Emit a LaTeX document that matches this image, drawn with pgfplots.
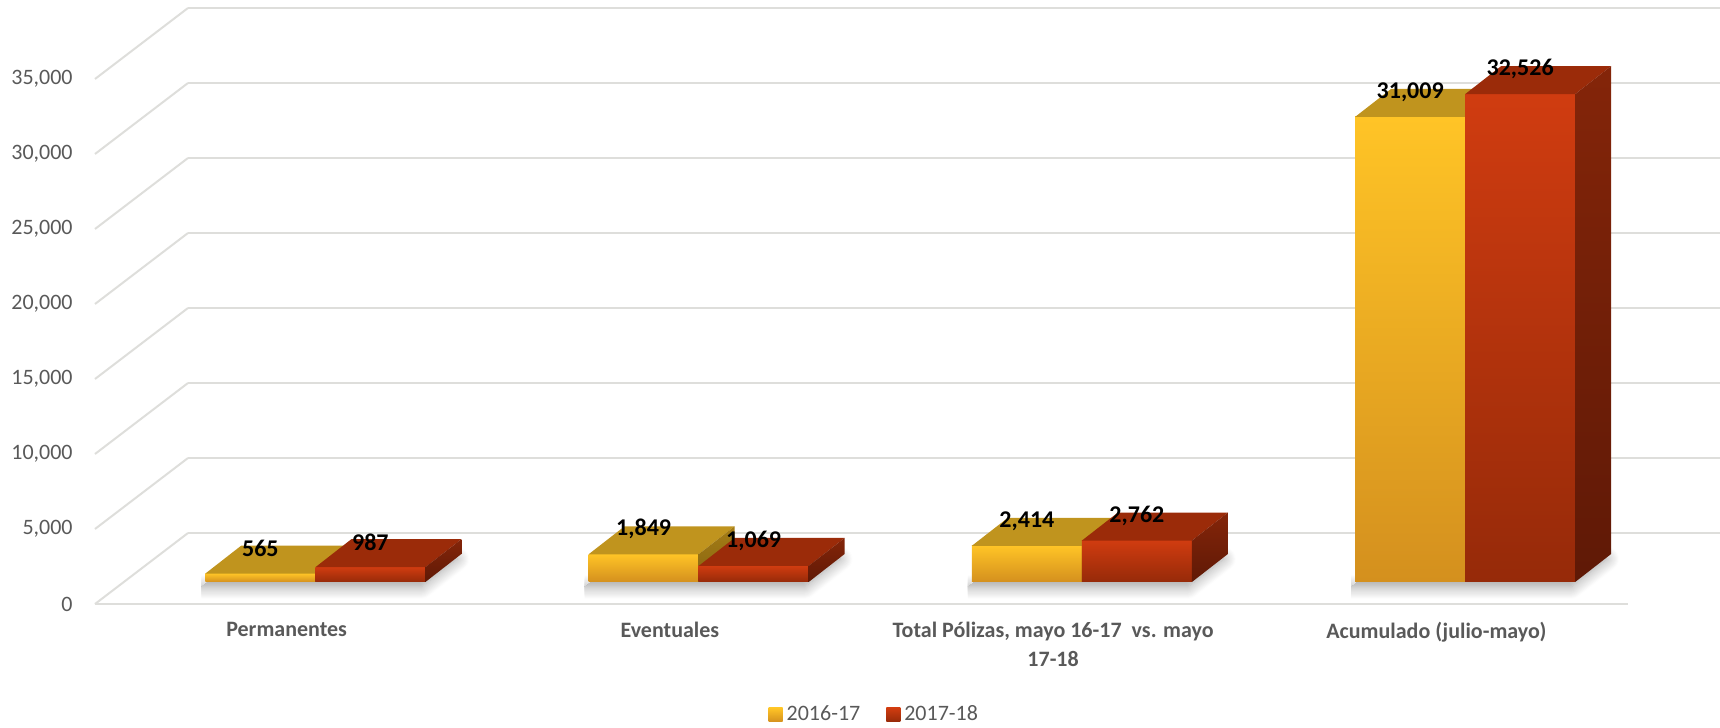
\documentclass[border=0pt]{standalone}
\usepackage{fontspec}
\setmainfont{Carlito}
\usepackage{pgfplots}
\usepackage{pgfplotstable}
\pgfplotsset{compat=1.18}
\usetikzlibrary{shadows.blur}

\definecolor{AF1}{RGB}{255,196,38}
\definecolor{AF2}{RGB}{212,144,30}
\definecolor{AT}{RGB}{192,148,30}
\definecolor{AS1}{RGB}{165,125,22}
\definecolor{AS2}{RGB}{135,100,16}
\definecolor{BF1}{RGB}{208,60,16}
\definecolor{BF2}{RGB}{150,42,9}
\definecolor{BT}{RGB}{155,43,9}
\definecolor{BS1}{RGB}{132,37,9}
\definecolor{BS2}{RGB}{95,25,6}
\definecolor{gridc}{RGB}{222,222,219}
\definecolor{labelc}{RGB}{89,89,89}

% values per category: Permanentes, Eventuales, Total, Acumulado
\pgfplotstableread{
cat val
0 565
1 1849
2 2414
3 31009
}\seriesA
\pgfplotstableread{
cat val
0 987
1 1069
2 2762
3 32526
}\seriesB

\pgfplotstableread{
u v
0 0
1 0
1 1
0 1
}\unitrect
\pgfplotstableread{
d e
0 0
1 0
}\seg

% geometry in axis units of the front plane
\def\xoff{0.0751}\def\yoff{1467}   % front face of the bars
\def\bw{0.2870}                    % bar width
\def\ddx{0.0939}\def\ddy{1867}     % bar depth
\def\wdx{0.2427}\def\wdy{4733}     % wall depth

% #1 category, #2 value, #3 left edge from category centre, #4 colour prefix
\newcommand\cuboid[4]{%
  \addplot[draw=none, forget plot, top color=#4F1, bottom color=#4F2]
    table[x expr=#1+(#3)+\bw*\thisrow{u}, y expr=\yoff+#2*\thisrow{v}] {\unitrect};
  \addplot[draw=none, forget plot, fill=#4T]
    table[x expr=#1+(#3)+\bw*\thisrow{u}+\ddx*\thisrow{v}, y expr=\yoff+#2+\ddy*\thisrow{v}] {\unitrect};
  \addplot[draw=none, forget plot, top color=#4S1, bottom color=#4S2]
    table[x expr=#1+(#3)+\bw+\ddx*\thisrow{u}, y expr=\yoff+#2*\thisrow{v}+\ddy*\thisrow{u}] {\unitrect};
}

\begin{document}
\begin{tikzpicture}
\begin{axis}[
  name=ax,
  width=766.5pt, height=262.5pt, scale only axis,
  xmin=-0.5, xmax=3.5, ymin=0, ymax=35000,
  clip=false,
  axis line style={draw=none},
  major tick length=0pt,
  ytick={0,5000,10000,15000,20000,25000,30000,35000},
  scaled y ticks=false,
  xtick={0,1,2,3},
  xticklabels={Permanentes, Eventuales, {Total Pólizas, mayo 16-17~ vs. mayo\\17-18}, Acumulado (julio-mayo)},
  /pgf/number format/1000 sep={,},
  /pgf/number format/assume math mode=true,
  xticklabel style={font=\bfseries\fontsize{11}{14.5}\selectfont, text=labelc, align=center, anchor=north, inner sep=0pt, yshift=-9pt},
  yticklabel style={font=\fontsize{11}{13}\selectfont, text=labelc, anchor=east, inner sep=0pt, xshift=-11pt},
  legend image code/.code={\path[#1, draw=none] (0pt,-3.5pt) rectangle (7pt,3.5pt);},
  legend style={at={(0.509,-0.2114)}, anchor=center, draw=none, fill=none,
    font=\fontsize{11}{13}\selectfont, text=labelc,
    /tikz/every even column/.append style={column sep=11pt}},
  legend columns=2,
]
% walls
\pgfplotsinvokeforeach{0,5000,10000,15000,20000,25000,30000,35000}{
  \addplot[gridc, line width=1pt, forget plot] table[x expr=-0.5+\wdx*\thisrow{d}, y expr=#1+\wdy*\thisrow{d}] {\seg};
  \addplot[gridc, line width=1pt, forget plot] table[x expr=-0.5+\wdx+4*\thisrow{d}, y expr=#1+\wdy] {\seg};
}
\addplot[gridc, line width=1pt, forget plot] table[x expr=-0.5+4*\thisrow{d}, y expr=0] {\seg};

% floor shadows and bars
\pgfplotsinvokeforeach{0,1,2,3}{
  \addplot[draw=none, forget plot, blur shadow={shadow xshift=-2pt, shadow yshift=-2.5pt, shadow blur radius=6pt, shadow blur steps=12, shadow opacity=38}]
    table[x expr=#1+\xoff-\bw+2*\bw*\thisrow{u}+\ddx*\thisrow{v}, y expr=\yoff+\ddy*\thisrow{v}] {\unitrect};
  \pgfplotstablegetelem{#1}{val}\of\seriesA \let\va\pgfplotsretval
  \pgfplotstablegetelem{#1}{val}\of\seriesB \let\vb\pgfplotsretval
  \edef\next{\noexpand\cuboid{#1}{\va}{\xoff-\bw}{A}\noexpand\cuboid{#1}{\vb}{\xoff}{B}}\next
}

% value labels
\addplot[draw=none, forget plot, nodes near coords, point meta=explicit,
  every node near coord/.append style={anchor=center, yshift=23.5pt, font=\bfseries\fontsize{12}{13}\selectfont, text=black}]
  table[x expr=\thisrow{cat}+\xoff-0.5*\bw, y=val, meta=val] {\seriesA};
\addplot[draw=none, forget plot, nodes near coords, point meta=explicit,
  every node near coord/.append style={anchor=center, yshift=23.5pt, font=\bfseries\fontsize{12}{13}\selectfont, text=black}]
  table[x expr=\thisrow{cat}+\xoff+0.5*\bw, y=val, meta=val] {\seriesB};

\addlegendimage{top color=AF1, bottom color=AF2}
\addlegendentry{2016-17}
\addlegendimage{top color=BF1, bottom color=BF2}
\addlegendentry{2017-18}
\end{axis}
\pgfresetboundingbox
\path (ax.south west) ++(-47.5pt,-62pt) rectangle ++(860pt,364pt);
\end{tikzpicture}
\end{document}
